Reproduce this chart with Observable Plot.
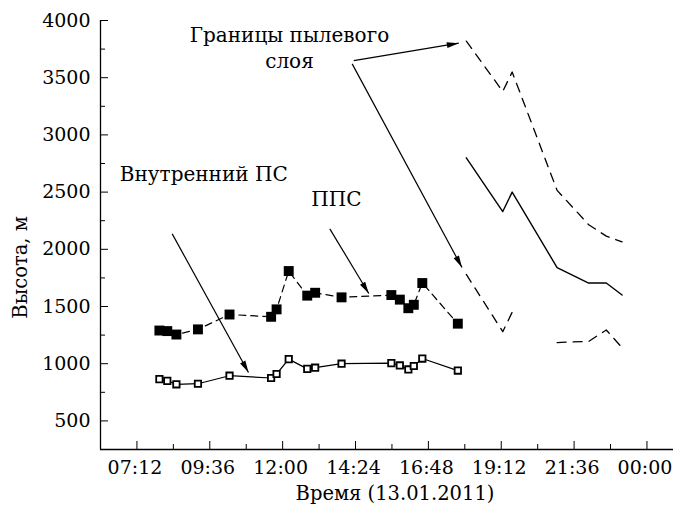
<!DOCTYPE html>
<html><head><meta charset="utf-8">
<script src="https://cdn.jsdelivr.net/npm/d3@7"></script>
<script src="https://cdn.jsdelivr.net/npm/@observablehq/plot@0.6"></script>
<style>
body{margin:0;background:#fff}
svg{display:block}
#chart svg, #chart svg text, #chart svg g { font-family: "DejaVu Serif", serif !important; }
</style>
</head><body><div id="chart"></div>
<script>
// Daytime lidar observations (hours of 13.01.2011)
const obsTime = [7.94, 8.20, 8.50, 9.21, 10.25, 11.62, 11.80, 12.20, 12.81, 13.07, 13.94, 15.58, 15.86, 16.14, 16.32, 16.60, 17.77];
// ППС (filled squares, dashed line)
const ppsHeight = [1290, 1285, 1255, 1300, 1430, 1410, 1475, 1810, 1595, 1620, 1580, 1600, 1560, 1485, 1515, 1705, 1350];
// Внутренний ПС (open squares, solid line)
const innerPsHeight = [865, 850, 820, 825, 895, 875, 910, 1040, 955, 965, 1000, 1005, 985, 950, 980, 1045, 940];

// Evening/night dust layer
const layerTime = [18.05, 19.25, 19.56, 21.04, 22.08, 22.66, 23.18];
const layerMid = [2800, 2330, 2500, 1840, 1705, 1705, 1600];
const layerTop = [3820, 3380, 3550, 2515, 2215, 2115, 2065];
const lowerTime = [18.05, 19.25, 19.56, 20.30, 21.04, 22.08, 22.66, 23.18];
const lowerHeight = [1780, 1280, 1450, NaN, 1185, 1195, 1295, 1140];

// Axes
const xTickValues = [7.2, 9.6, 12, 14.4, 16.8, 19.2, 21.6, 24];
const xTickLabels = ["07:12", "09:36", "12:00", "14:24", "16:48", "19:12", "21:36", "00:00"];
const xMinorTicks = [8.4, 10.8, 13.2, 15.6, 18, 20.4, 22.8];
const yTickValues = [500, 1000, 1500, 2000, 2500, 3000, 3500, 4000];
const yMinorTicks = [750, 1250, 1750, 2250, 2750, 3250, 3750];
const xTitle = "Время (13.01.2011)";
const yTitle = "Высота, м";

// Annotations
const noteText = ["Внутренний ПС", "ППС", "Границы пылевого\nслоя"];
const noteX = [9.40, 13.77, 12.225];
const noteY = [2675, 2454, 3771];
const arrowX1 = [8.362, 13.553, 14.343, 14.29];
const arrowY1 = [2135, 2179, 3650, 3621];
const arrowX2 = [10.875, 14.837, 17.802, 17.907];
const arrowY2 = [923, 1614, 3802, 1841];

const obs = obsTime.map((t, i) => ({t, pps: ppsHeight[i], inner: innerPsHeight[i]}));
const layer = layerTime.map((t, i) => ({t, mid: layerMid[i], top: layerTop[i]}));
const lower = lowerTime.map((t, i) => ({t, h: lowerHeight[i]}));
const notes = noteText.map((text, i) => ({text, x: noteX[i], y: noteY[i]}));
const arrows = arrowX1.map((x1, i) => ({x1, y1: arrowY1[i], x2: arrowX2[i], y2: arrowY2[i]}));

const W = 673, H = 506, mT = 20, mB = 57, mL = 100, mR = 0;
const frameW = W - mL - mR, frameH = H - mT - mB;
const FONT = "DejaVu Serif";

function arrowHead(color, context) {
  const doc = (context && context.document) || document;
  const ns = "http://www.w3.org/2000/svg";
  const m = doc.createElementNS(ns, "marker");
  m.setAttribute("viewBox", "-13 -4 13 8");
  m.setAttribute("markerWidth", 13);
  m.setAttribute("markerHeight", 8);
  m.setAttribute("markerUnits", "userSpaceOnUse");
  m.setAttribute("refX", 0);
  m.setAttribute("refY", 0);
  m.setAttribute("orient", "auto");
  const p = doc.createElementNS(ns, "path");
  p.setAttribute("d", "M-12,-3L0,0L-12,3Z");
  p.setAttribute("fill", "black");
  p.setAttribute("stroke", "none");
  m.appendChild(p);
  return m;
}

const chart = Plot.plot({
  width: W,
  height: H,
  marginTop: mT,
  marginBottom: mB,
  marginLeft: mL,
  marginRight: mR,
  x: {domain: [6, 24.874]},
  y: {domain: [250, 4000]},
  style: {fontFamily: FONT, fontSize: "19px", color: "black", background: "white", overflow: "visible"},
  marks: [
    // axis lines
    Plot.ruleX([6], {stroke: "black", strokeWidth: 1.3}),
    Plot.ruleY([250], {stroke: "black", strokeWidth: 1.3}),
    // inward ticks
    Plot.tickY(yTickValues, {y: d => d, insetRight: frameW - 8, stroke: "black", strokeWidth: 1}),
    Plot.tickY(yMinorTicks, {y: d => d, insetRight: frameW - 5, stroke: "black", strokeWidth: 1}),
    Plot.tickX(xTickValues, {x: d => d, insetTop: frameH - 8, stroke: "black", strokeWidth: 1}),
    Plot.tickX(xMinorTicks, {x: d => d, insetTop: frameH - 5, stroke: "black", strokeWidth: 1}),
    // tick labels
    Plot.axisY(yTickValues, {tickSize: 0, tickPadding: 10, label: null, fill: "black", fontSize: 19, fontFamily: FONT, tickFormat: d => String(d)}),
    Plot.axisX(xTickValues, {tickSize: 0, tickPadding: 11, label: null, fill: "black", fontSize: 19, fontFamily: FONT, dx: -2,
      tickFormat: d => xTickLabels[xTickValues.indexOf(d)]}),
    // axis titles
    Plot.text([xTitle], {frameAnchor: "bottom", dy: 44, dx: 8, text: d => d, fontSize: 19.5, fontFamily: FONT, fill: "black",
      textAnchor: "middle", lineAnchor: "middle"}),
    Plot.text([yTitle], {frameAnchor: "left", y: [1842], dx: -80, rotate: -90, text: d => d, fontSize: 19.5, fontFamily: FONT, fill: "black",
      textAnchor: "middle", lineAnchor: "middle"}),
    // daytime series
    Plot.line(obs, {x: "t", y: "pps", stroke: "black", strokeWidth: 1.2, strokeDasharray: "7,5"}),
    Plot.line(obs, {x: "t", y: "inner", stroke: "black", strokeWidth: 1.2}),
    Plot.dot(obs, {x: "t", y: "pps", symbol: "square", r: 5.6, fill: "black", stroke: "none"}),
    Plot.dot(obs, {x: "t", y: "inner", symbol: "square", r: 3.6, fill: "white", stroke: "black", strokeWidth: 1.8}),
    // dust layer
    Plot.line(layer, {x: "t", y: "top", stroke: "black", strokeWidth: 1.3, strokeDasharray: "9,7"}),
    Plot.line(layer, {x: "t", y: "mid", stroke: "black", strokeWidth: 1.4}),
    Plot.line(lower, {x: "t", y: "h", stroke: "black", strokeWidth: 1.3, strokeDasharray: "9,7"}),
    // annotations
    Plot.link(arrows, {x1: "x1", y1: "y1", x2: "x2", y2: "y2", stroke: "black", strokeWidth: 1.2, markerEnd: arrowHead}),
    Plot.text(notes, {x: "x", y: "y", text: "text", fontSize: 20, fontFamily: FONT, lineHeight: 1.33, fill: "black", textAnchor: "middle"})
  ]
});
document.getElementById("chart").appendChild(chart);
</script>
</body></html>
